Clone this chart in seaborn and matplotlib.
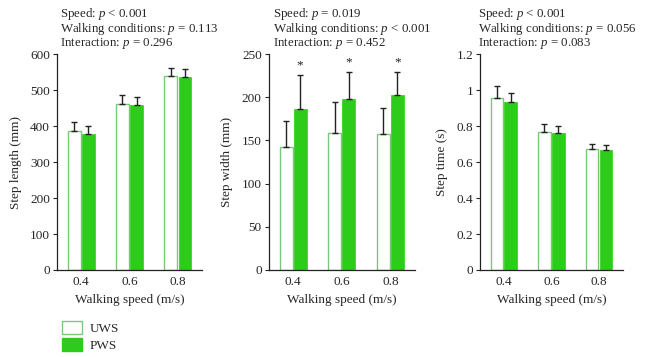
import matplotlib
matplotlib.use("Agg")
import matplotlib.pyplot as plt
import seaborn as sns
import pandas as pd
import numpy as np
from matplotlib.patches import Patch

sns.set_theme(style="ticks")
plt.rcParams['font.family'] = ['Liberation Serif', 'DejaVu Serif']
plt.rcParams['mathtext.fontset'] = 'custom'
plt.rcParams['mathtext.rm'] = 'Liberation Serif'
plt.rcParams['mathtext.it'] = 'Liberation Serif:italic'

speeds = ["0.4", "0.6", "0.8"]
conditions = ["UWS", "PWS"]

step_length_uws = [386, 462, 538]
step_length_pws = [377, 458, 535]
step_length_uws_sd = [24, 24, 22]
step_length_pws_sd = [22, 23, 23]

step_width_uws = [142, 158, 157]
step_width_pws = [186, 198, 203]
step_width_uws_sd = [31, 36, 31]
step_width_pws_sd = [40, 31, 26]

step_time_uws = [0.955, 0.766, 0.672]
step_time_pws = [0.933, 0.759, 0.664]
step_time_uws_sd = [0.065, 0.043, 0.026]
step_time_pws_sd = [0.050, 0.039, 0.028]

ylabels = ["Step length (mm)", "Step width (mm)", "Step time (s)"]
yticks = [[0, 100, 200, 300, 400, 500, 600],
          [0, 50, 100, 150, 200, 250],
          [0, 0.2, 0.4, 0.6, 0.8, 1.0, 1.2]]
stats_text = [
    "Speed: $p$ < 0.001\nWalking conditions: $p$ = 0.113\nInteraction: $p$ = 0.296",
    "Speed: $p$ = 0.019\nWalking conditions: $p$ < 0.001\nInteraction: $p$ = 0.452",
    "Speed: $p$ < 0.001\nWalking conditions: $p$ = 0.056\nInteraction: $p$ = 0.083",
]
star_panel = [False, True, False]

panels = [
    (step_length_uws, step_length_pws, step_length_uws_sd, step_length_pws_sd),
    (step_width_uws, step_width_pws, step_width_uws_sd, step_width_pws_sd),
    (step_time_uws, step_time_pws, step_time_uws_sd, step_time_pws_sd),
]

GREEN = "#2ecc1a"
EDGE = "#7cc77a"

fig = plt.figure(figsize=(6.46, 3.57), dpi=100)
lefts = [0.088, 0.416, 0.743]
widths = [0.225, 0.226, 0.221]
text_x = [60 / 646, 273 / 646, 478 / 646]

for i, (u, p, usd, psd) in enumerate(panels):
    ax = fig.add_axes([lefts[i], 0.2437, widths[i], 0.605])
    df = pd.DataFrame({
        "speed": speeds * 2,
        "cond": [conditions[0]] * 3 + [conditions[1]] * 3,
        "value": list(u) + list(p),
    })
    sns.barplot(data=df, x="speed", y="value", hue="cond", order=speeds,
                hue_order=conditions, palette={"UWS": "white", "PWS": GREEN},
                saturation=1, width=0.58, gap=0.08, errorbar=None,
                legend=False, ax=ax)
    sds = [usd, psd]
    vals = [u, p]
    bar_conts = list(ax.containers)
    for k, cont in enumerate(bar_conts):
        xs = []
        for bar in cont.patches:
            if k == 0:
                bar.set_edgecolor(EDGE)
                bar.set_linewidth(1.0)
            else:
                bar.set_edgecolor(GREEN)
                bar.set_linewidth(0.5)
            xs.append(bar.get_x() + bar.get_width() / 2)
        xs = np.array(xs)
        ax.errorbar(xs, vals[k], yerr=[np.zeros(3), sds[k]], fmt="none",
                    ecolor="#222222", elinewidth=1.0, capsize=2.5, capthick=1.0,
                    zorder=1)
        if star_panel[i] and k == 1:
            top = np.array(vals[k]) + np.array(sds[k])
            for x, t in zip(xs, top):
                ax.text(x, t + 4, "*", ha="center", va="bottom", fontsize=9.5,
                        color="#222222")
    ax.set_xlim(-0.5, 2.5)
    ax.set_ylim(yticks[i][0], yticks[i][-1])
    ax.set_yticks(yticks[i])
    ax.set_yticklabels([f"{t:g}" for t in yticks[i]], fontsize=9.5)
    ax.tick_params(axis="x", length=0, labelsize=9.5, pad=4)
    ax.tick_params(axis="y", length=3, width=0.8, pad=2)
    for s in ["top", "right"]:
        ax.spines[s].set_visible(False)
    for s in ["left", "bottom"]:
        ax.spines[s].set_linewidth(0.9)
        ax.spines[s].set_color("#222222")
    ax.set_xlabel("Walking speed (m/s)", fontsize=9.5, labelpad=5)
    ax.set_ylabel(ylabels[i], fontsize=9.5, labelpad=6)
    fig.text(text_x[i], 1 - 6.5 / 357, stats_text[i], ha="left", va="top",
             fontsize=9.3, linespacing=0.9)

handles = [Patch(facecolor="white", edgecolor=EDGE, linewidth=1.0, label="UWS"),
           Patch(facecolor=GREEN, edgecolor=GREEN, label="PWS")]
fig.legend(handles=handles, loc="upper left", bbox_to_anchor=(0.086, 0.118),
           frameon=False, fontsize=9.5, handlelength=1.5, handleheight=1.1,
           handletextpad=0.6, labelspacing=0.2, borderpad=0.0)

fig.savefig("out.png", dpi=100)
